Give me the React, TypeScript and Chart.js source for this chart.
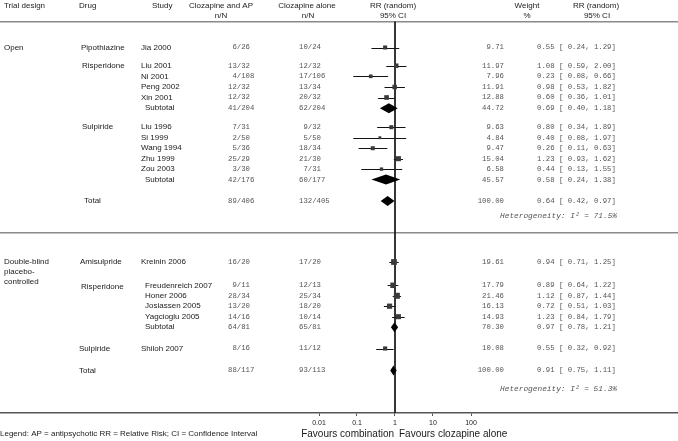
import React, { useEffect, useRef } from "react";
import { Chart, registerables } from "chart.js";
Chart.register(...registerables);

// ---------- data ----------
const studyNames = [
  "Jia 2000", "Liu 2001", "Ni 2001", "Peng 2002", "Xin 2001",
  "Liu 1996", "Si 1999", "Wang 1994", "Zhu 1999", "Zou 2003",
  "Kreinin 2006", "Freudenreich 2007", "Honer 2006", "Josiassen 2005", "Yagcioglu 2005",
  "Shiloh 2007",
];
const combN = ["6/26", "13/32", "4/108", "12/32", "12/32", "7/31", "2/50", "5/36", "25/29", "3/30", "16/20", "9/11", "28/34", "13/20", "14/16", "8/16"];
const aloneN = ["10/24", "12/32", "17/106", "13/34", "20/32", "9/32", "5/50", "18/34", "21/30", "7/31", "17/20", "12/13", "25/34", "18/20", "10/14", "11/12"];
const weights = [9.71, 11.97, 7.96, 11.91, 12.88, 9.63, 4.84, 9.47, 15.04, 6.58, 19.61, 17.79, 21.46, 16.13, 14.93, 10.08];
const rr = [0.55, 1.08, 0.23, 0.98, 0.60, 0.80, 0.40, 0.26, 1.23, 0.44, 0.94, 0.89, 1.12, 0.72, 1.23, 0.55];
const lo = [0.24, 0.59, 0.08, 0.53, 0.36, 0.34, 0.08, 0.11, 0.93, 0.13, 0.71, 0.64, 0.87, 0.51, 0.84, 0.32];
const hi = [1.29, 2.00, 0.66, 1.82, 1.01, 1.89, 1.97, 0.63, 1.62, 1.55, 1.25, 1.22, 1.44, 1.03, 1.79, 0.92];

const pooledLabels = ["Subtotal", "Subtotal", "Total", "Subtotal", "Total"];
const pooledComb = ["41/204", "42/176", "89/406", "64/81", "88/117"];
const pooledAlone = ["62/204", "60/177", "132/405", "65/81", "93/113"];
const pooledWeight = [44.72, 45.57, 100.0, 70.3, 100.0];
const pooledRR = [0.69, 0.58, 0.64, 0.97, 0.91];
const pooledLo = [0.40, 0.24, 0.42, 0.78, 0.75];
const pooledHi = [1.18, 1.38, 0.97, 1.21, 1.11];
const heterogeneity = [71.5, 51.3];

const drugGroups = ["Pipothiazine", "Risperidone", "Sulpiride", "Amisulpride", "Risperidone", "Sulpiride"];
const designs = [["Open"], ["Double-blind", "placebo-", "controlled"]];
const tickValues = [0.01, 0.1, 1, 10, 100];
const tickLabels = ["0.01", "0.1", "1", "10", "100"];

// ---------- layout (row positions in pixels of the y scale) ----------
const studyY = [47.5, 65.7, 76.3, 87, 97.5, 127.2, 137.7, 148.2, 158.7, 169.1, 262, 285.3, 295.8, 306.2, 316.7, 348.5];
const studyX = [141, 141, 141, 141, 141, 141, 141, 141, 141, 141, 141, 145, 145, 145, 145, 141];
const pooledY = [108.2, 179.6, 201, 327.2, 370.5];
const pooledX = [145, 145, 84, 145, 79];
const hetY = [215.5, 389];
const drugY = [47.5, 65.7, 127.2, 262, 286.5, 348.5];
const drugX = [81, 82, 82, 80, 81, 79];
const designY = [47.5, 262];
const separatorY = [21.7, 232.7];
const refLineTop = 21.7;
const Y_BOTTOM = 413;
const PX_PER_DECADE = 38;
const X_ONE = 395;
const W = 678;
const H = 441;

const SANS = '"Liberation Sans", Arial, sans-serif';
const MONO = '"Liberation Mono", "Courier New", monospace';
const C1X = 228;
const C2X = 299;
const WEIGHT_R = 504;
const RR_X = 537;
const RR_R = 617;

function fmtCount(s: string) {
  const [a, b] = s.split("/");
  return a.padStart(2, " ") + "/" + b.padEnd(3, " ");
}
function fmtRR(e: number, l: number, h: number) {
  return e.toFixed(2) + " [" + l.toFixed(2).padStart(5, " ") + ", " + h.toFixed(2) + "]";
}

function txt(ctx: CanvasRenderingContext2D, s: string, x: number, y: number, font: string, color: string, align: CanvasTextAlign = "left") {
  ctx.font = font;
  ctx.fillStyle = color;
  ctx.textAlign = align;
  ctx.textBaseline = "middle";
  ctx.fillText(s, x, y);
}

const forestPlugin = {
  id: "forest",
  beforeDatasetsDraw(chart: any) {
    const { ctx, scales } = chart;
    const x = scales.x, y = scales.y;
    ctx.save();
    ctx.strokeStyle = "#8a8a8a";
    ctx.lineWidth = 1.6;
    separatorY.forEach((sy) => {
      const py = y.getPixelForValue(sy);
      ctx.beginPath();
      ctx.moveTo(0, py);
      ctx.lineTo(chart.width, py);
      ctx.stroke();
    });
    ctx.strokeStyle = "#111";
    ctx.lineWidth = 1;
    studyNames.forEach((_, i) => {
      const py = Math.round(y.getPixelForValue(studyY[i])) + 0.5;
      ctx.beginPath();
      ctx.moveTo(x.getPixelForValue(lo[i]), py);
      ctx.lineTo(x.getPixelForValue(hi[i]), py);
      ctx.stroke();
    });
    ctx.restore();
  },
  afterDatasetsDraw(chart: any) {
    const { ctx, scales } = chart;
    const x = scales.x, y = scales.y;
    ctx.save();
    // diamonds
    ctx.fillStyle = "#000";
    pooledRR.forEach((e, i) => {
      const py = y.getPixelForValue(pooledY[i]);
      const hh = 5;
      ctx.beginPath();
      ctx.moveTo(x.getPixelForValue(pooledLo[i]), py);
      ctx.lineTo(x.getPixelForValue(e), py - hh);
      ctx.lineTo(x.getPixelForValue(pooledHi[i]), py);
      ctx.lineTo(x.getPixelForValue(e), py + hh);
      ctx.closePath();
      ctx.fill();
    });

    const fs = "8px " + SANS;
    const fm = "7.3px " + MONO;
    const dark = "#1a1a1a";
    const gray = "#555";
    // headers
    const h1 = y.getPixelForValue(5.7), h2 = y.getPixelForValue(15.7);
    txt(ctx, "Trial design", 4, h1, fs, dark);
    txt(ctx, "Drug", 79, h1, fs, dark);
    txt(ctx, "Study", 152, h1, fs, dark);
    txt(ctx, "Clozapine and AP", 221, h1, fs, dark, "center");
    txt(ctx, "n/N", 221, h2, fs, dark, "center");
    txt(ctx, "Clozapine alone", 307, h1, fs, dark, "center");
    txt(ctx, "n/N", 308, h2, fs, dark, "center");
    txt(ctx, "RR (random)", 393, h1, fs, dark, "center");
    txt(ctx, "95% CI", 393, h2, fs, dark, "center");
    txt(ctx, "Weight", 527, h1, fs, dark, "center");
    txt(ctx, "%", 527, h2, fs, dark, "center");
    txt(ctx, "RR (random)", 596, h1, fs, dark, "center");
    txt(ctx, "95% CI", 597, h2, fs, dark, "center");

    designs.forEach((lines, i) => {
      lines.forEach((l, j) => txt(ctx, l, 4, y.getPixelForValue(designY[i] + j * 10), fs, dark));
    });
    drugGroups.forEach((d, i) => txt(ctx, d, drugX[i], y.getPixelForValue(drugY[i]), fs, dark));

    studyNames.forEach((s, i) => {
      const py = y.getPixelForValue(studyY[i]);
      txt(ctx, s, studyX[i], py, fs, dark);
      txt(ctx, fmtCount(combN[i]), C1X, py, fm, gray);
      txt(ctx, fmtCount(aloneN[i]), C2X, py, fm, gray);
      txt(ctx, weights[i].toFixed(2), WEIGHT_R, py, fm, gray, "right");
      txt(ctx, fmtRR(rr[i], lo[i], hi[i]), RR_X, py, fm, gray);
    });
    pooledLabels.forEach((s, i) => {
      const py = y.getPixelForValue(pooledY[i]);
      txt(ctx, s, pooledX[i], py, fs, dark);
      txt(ctx, fmtCount(pooledComb[i]), C1X, py, fm, gray);
      txt(ctx, fmtCount(pooledAlone[i]), C2X, py, fm, gray);
      txt(ctx, pooledWeight[i].toFixed(2), WEIGHT_R, py, fm, gray, "right");
      txt(ctx, fmtRR(pooledRR[i], pooledLo[i], pooledHi[i]), RR_X, py, fm, gray);
    });
    heterogeneity.forEach((v, i) => {
      txt(ctx, "Heterogeneity: I\u00B2 = " + v.toFixed(1) + "%", RR_R, y.getPixelForValue(hetY[i]), "italic 7.8px " + MONO, gray, "right");
    });

    // bottom labels
    const x1 = x.getPixelForValue(1);
    txt(ctx, "Favours combination", x1 - 1, 434, "10px " + SANS, dark, "right");
    txt(ctx, "Favours clozapine alone", x1 + 4, 434, "10px " + SANS, dark, "left");
    txt(ctx, "Legend: AP = antipsychotic RR = Relative Risk; CI = Confidence Interval", 0, 434, "8px " + SANS, dark);
    ctx.restore();
  },
};

export default function App() {
  const ref = useRef<HTMLCanvasElement>(null);
  useEffect(() => {
    document.body.style.margin = "0";
    const logMin = Math.log10(1) - X_ONE / PX_PER_DECADE;
    const logMax = (W - X_ONE) / PX_PER_DECADE;
    const chart = new Chart(ref.current!, {
      type: "scatter",
      data: {
        datasets: [
          {
            type: "scatter",
            data: rr.map((v, i) => ({ x: v, y: studyY[i] })),
            pointStyle: "rect",
            pointRadius: weights.map((w) => (1.3 * Math.sqrt(w)) / Math.SQRT2),
            backgroundColor: "#3a3a3a",
            borderWidth: 0,
          } as any,
          {
            type: "line",
            data: [
              { x: 1, y: refLineTop },
              { x: 1, y: Y_BOTTOM },
            ],
            borderColor: "#1a1a1a",
            borderWidth: 1,
            pointRadius: 0,
          } as any,
        ],
      },
      options: {
        responsive: false,
        animation: false,
        events: [],
        layout: { padding: 0, autoPadding: false },
        plugins: { legend: { display: false }, tooltip: { enabled: false } },
        scales: {
          x: {
            type: "logarithmic",
            position: "bottom",
            min: Math.pow(10, logMin),
            max: Math.pow(10, logMax),
            bounds: "data",
            afterBuildTicks: (scale: any) => {
              scale.ticks = tickValues.map((v) => ({ value: v }));
            },
            afterFit: (scale: any) => {
              scale.height = H - Y_BOTTOM;
            },
            ticks: {
              autoSkip: false,
              maxRotation: 0,
              padding: 3,
              color: "#222",
              font: { family: SANS, size: 7 },
              callback: (v: any) => {
                const k = tickValues.indexOf(Number(v));
                return k >= 0 ? tickLabels[k] : "";
              },
            },
            grid: { display: true, drawOnChartArea: false, tickLength: 3, color: "#555" },
            border: { display: true, color: "#555", width: 1.5 },
          } as any,
          y: {
            type: "linear",
            display: false,
            min: 0,
            max: Y_BOTTOM,
            reverse: true,
          },
        },
      },
      plugins: [forestPlugin],
    } as any);
    return () => chart.destroy();
  }, []);
  return <canvas ref={ref} width={W} height={H} style={{ display: "block" }} />;
}
